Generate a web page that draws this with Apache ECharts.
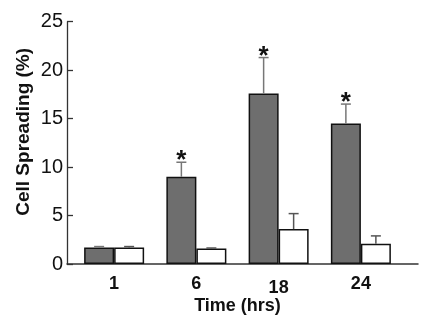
<!DOCTYPE html>
<html>
<head>
<meta charset="utf-8">
<script src="https://cdn.jsdelivr.net/npm/echarts@6/dist/echarts.min.js"></script>
<style>
  html, body { margin: 0; padding: 0; background: #fff; }
  #chart { width: 432px; height: 324px; }
</style>
</head>
<body>
<div id="chart"></div>
<script>
// data
var categories = ['1', '6', '18', '24'];
var darkValues = [1.7, 9.0, 17.6, 14.5];
var darkErrTop = [1.8, 10.5, 21.3, 16.5];
var darkStars = [false, true, true, true];
var whiteValues = [1.7, 1.6, 3.6, 2.1];
var whiteErrTop = [1.8, 1.65, 5.2, 2.9];
var yTicks = [0, 5, 10, 15, 20, 25];

var BAR_W = 30;

// error bar: vertical line + cap, optional star above
function errorSeries(values, tops, stars, side, color) {
  return {
    type: 'custom',
    xAxisIndex: 0,
    yAxisIndex: 0,
    z: 5,
    data: values.map(function (v, i) { return [i, v, tops[i], stars && stars[i] ? 1 : 0]; }),
    renderItem: function (params, api) {
      var base = api.coord([api.value(0), api.value(1)]);
      var top = api.coord([api.value(0), api.value(2)]);
      var x = base[0] + side * BAR_W / 2;
      var children = [
        { type: 'line', shape: { x1: x, y1: base[1], x2: x, y2: top[1] },
          style: { stroke: color, lineWidth: 1.5 } },
        { type: 'line', shape: { x1: x - 5, y1: top[1], x2: x + 5, y2: top[1] },
          style: { stroke: color, lineWidth: 1.5 } }
      ];
      if (api.value(3)) {
        children.push({
          type: 'text',
          style: {
            text: '*', x: x, y: top[1] + 12,
            align: 'center', verticalAlign: 'bottom',
            font: 'bold 26px "Liberation Sans", Arial, sans-serif',
            fill: '#111'
          }
        });
      }
      return { type: 'group', children: children };
    }
  };
}

var chart = echarts.init(document.getElementById('chart'));
chart.setOption({
  animation: false,
  backgroundColor: '#fff',
  textStyle: { fontFamily: '"Liberation Sans", Arial, sans-serif' },
  grid: [
    { left: 73, right: 30, top: 21.7, bottom: 60, containLabel: false },
    { left: 67, right: 14, top: 21.7, bottom: 60, containLabel: false }
  ],
  xAxis: [{
    type: 'category',
    gridIndex: 0,
    data: categories,
    axisLine: { show: false },
    axisTick: { show: false },
    axisLabel: {
      margin: 11,
      color: '#111',
      fontSize: 18,
      fontWeight: 'bold',
      formatter: function (v) { return '{' + (v === '18' ? 'lo' : (v === '24' ? 'hi' : 'n')) + '|' + v + '}'; },
      rich: {
        n: { fontSize: 18, fontWeight: 'bold', color: '#111' },
        lo: { fontSize: 18, fontWeight: 'bold', color: '#111', padding: [4, 0, 0, 0] },
        hi: { fontSize: 18, fontWeight: 'bold', color: '#111', padding: [0, 0, 5, 0] }
      }
    },
    name: 'Time (hrs)',
    nameLocation: 'middle',
    nameGap: 33,
    nameMoveOverlap: false,
    nameTextStyle: { fontSize: 18, fontWeight: 'bold', color: '#111' }
  }, {
    type: 'value',
    gridIndex: 1,
    min: 0,
    max: 1,
    axisLine: { show: true, lineStyle: { color: '#333', width: 1.5 } },
    axisTick: { show: false },
    axisLabel: { show: false },
    splitLine: { show: false }
  }],
  yAxis: [{
    type: 'value',
    gridIndex: 0,
    min: yTicks[0],
    max: yTicks[yTicks.length - 1],
    interval: 5,
    offset: 6,
    axisLine: { show: true, lineStyle: { color: '#333', width: 1.3 } },
    axisTick: { show: true, inside: true, length: 6, lineStyle: { color: '#333', width: 1.3 } },
    axisLabel: { color: '#111', fontSize: 20, margin: 4 },
    splitLine: { show: false },
    name: 'Cell Spreading (%)',
    nameLocation: 'middle',
    nameGap: 34,
    nameMoveOverlap: false,
    nameTextStyle: { fontSize: 19, fontWeight: 'bold', color: '#111', padding: [0, 0, 0, 22] }
  }, {
    type: 'value',
    gridIndex: 1,
    show: false
  }],
  series: [{
    type: 'bar',
    data: darkValues,
    barWidth: BAR_W,
    barGap: '0%',
    itemStyle: { color: '#6e6e6e', borderColor: '#111', borderWidth: 1.5 }
  }, {
    type: 'bar',
    data: whiteValues,
    barWidth: BAR_W,
    barGap: '0%',
    itemStyle: { color: '#fff', borderColor: '#111', borderWidth: 1.5 }
  },
  errorSeries(darkValues, darkErrTop, darkStars, -1, '#777'),
  errorSeries(whiteValues, whiteErrTop, null, 1, '#555')
  ]
});
</script>
</body>
</html>
